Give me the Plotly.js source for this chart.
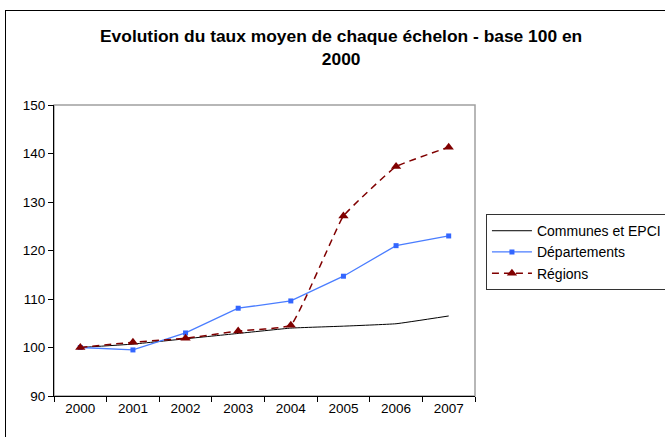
<!DOCTYPE html>
<html>
<head>
<meta charset="utf-8">
<script src="https://cdn.plot.ly/plotly-3.0.1.min.js"></script>
<style>
  html, body { margin: 0; padding: 0; background: #fff; overflow: hidden; }
  #wrap { position: relative; width: 665px; height: 437px; }
  #chart { position: absolute; left: 0; top: 0; width: 665px; height: 437px; }
  #frame { position: absolute; left: 5px; top: 10px; width: 700px; height: 500px;
           border: 1.5px solid #000; pointer-events: none; }
</style>
</head>
<body>
<div id="wrap">
  <div id="chart"></div>
  <div id="frame"></div>
</div>
<script>
const years = ["2000", "2001", "2002", "2003", "2004", "2005", "2006", "2007"];
const communes = [100, 100.7, 101.8, 102.9, 104.0, 104.4, 104.9, 106.5];
const departements = [100, 99.5, 103.0, 108.1, 109.6, 114.7, 121.0, 123.0];
const regions = [100, 101.1, 101.9, 103.4, 104.6, 127.1, 137.3, 141.3];
const seriesNames = ["Communes et EPCI", "Départements", "Régions"];
const yTicks = [90, 100, 110, 120, 130, 140, 150];

const traces = [
  {
    x: years, y: communes, name: seriesNames[0], type: "scatter", mode: "lines",
    line: { color: "#000000", width: 1, shape: "spline", smoothing: 0.3 }
  },
  {
    x: years, y: departements, name: seriesNames[1], type: "scatter", mode: "lines+markers",
    line: { color: "#4a7dff", width: 1.3 },
    marker: { symbol: "square", size: 5, color: "#3366ff" }
  },
  {
    x: years, y: regions, name: seriesNames[2], type: "scatter", mode: "lines+markers",
    line: { color: "#800000", width: 1.5, dash: "7px,5px", shape: "spline", smoothing: 0.3 },
    marker: { symbol: "triangle-up", size: 9, color: "#800000" }
  }
];

const layout = {
  width: 665, height: 437,
  margin: { l: 54, r: 190, t: 105, b: 41, pad: 0, autoexpand: false },
  paper_bgcolor: "#ffffff", plot_bgcolor: "#ffffff",
  font: { family: "Liberation Sans, Arial, sans-serif", size: 13.5, color: "#000" },
  title: {
    text: "<b>Evolution du taux moyen de chaque échelon - base 100 en<br>2000</b>",
    font: { family: "Liberation Sans, Arial, sans-serif", size: 17.4, color: "#000" },
    x: 0.513, xanchor: "center", y: 0.903, yanchor: "middle"
  },
  xaxis: {
    type: "category", range: [-0.5, 7.5], automargin: false,
    showgrid: false, zeroline: false,
    showline: true, linecolor: "#000", linewidth: 1,
    ticks: "outside", tickson: "boundaries", ticklen: 5, tickcolor: "#000",
    tickfont: { size: 13.5 }
  },
  yaxis: {
    range: [90, 150], tickvals: yTicks, automargin: false,
    showgrid: false, zeroline: false,
    showline: true, linecolor: "#000", linewidth: 1,
    ticks: "outside", ticklen: 5, tickcolor: "#000",
    tickfont: { size: 13.5 }
  },
  shapes: [{
    type: "rect", xref: "paper", yref: "paper", x0: 0, x1: 1, y0: 0, y1: 1,
    line: { color: "#a0a0a0", width: 1.5 }, layer: "below"
  }],
  showlegend: true,
  legend: {
    x: 1.026, xanchor: "left", y: 0.625, yanchor: "top",
    bgcolor: "#ffffff", bordercolor: "#333", borderwidth: 1,
    font: { size: 14 }, tracegroupgap: 0, itemwidth: 40
  }
};

Plotly.newPlot("chart", traces, layout, { displayModeBar: false, staticPlot: true });
</script>
</body>
</html>
